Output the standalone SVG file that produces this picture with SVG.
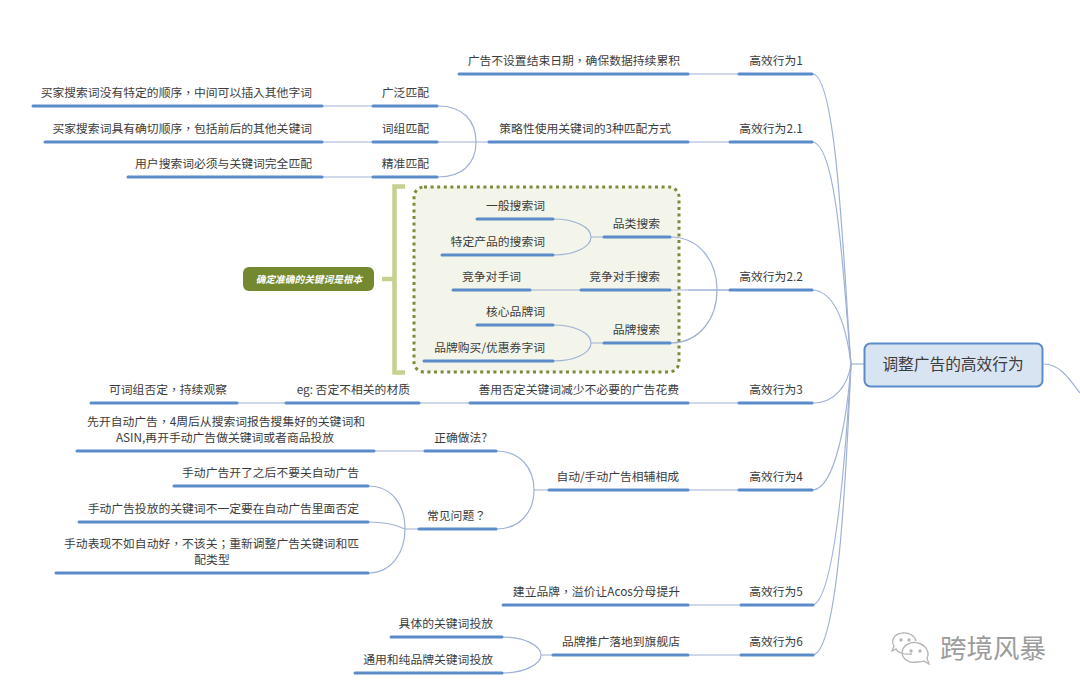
<svg xmlns="http://www.w3.org/2000/svg" width="1080" height="696" viewBox="0 0 1080 696">
<style>
text{font-family:"Noto Sans CJK SC","Liberation Sans",sans-serif;font-size:11.800px;fill:#3c3c3c}
.p{font-family:"Noto Sans CJK TC","Noto Sans CJK SC",sans-serif}
.e{text-anchor:end}.m{text-anchor:middle}
.u{stroke:#5b8bc9;stroke-width:3;stroke-linecap:round;fill:none}
.c{stroke:#9fb2d6;stroke-width:1.2;fill:none}
</style>
<rect width="1080" height="696" fill="#fff"/>
<g id="group-box">
<rect x="414" y="187" width="265" height="185" rx="10" fill="#f3f5ea" stroke="#7d8a3c" stroke-width="3" stroke-dasharray="3 3.6"/>
</g>
<g id="connectors">
<path class="c" d="M813 74C838 78 844 280 851 364"/>
<path class="c" d="M813 142C838 146 844 290 851 364"/>
<path class="c" d="M813 290C835 292 846 325 851 364"/>
<path class="c" d="M813 403C835 403 848 385 851 364"/>
<path class="c" d="M813 490C835 488 847 420 851 364"/>
<path class="c" d="M813 605C835 598 846 450 851 364"/>
<path class="c" d="M813 655C838 650 846 480 851 364"/>
<path class="c" d="M851 364H864"/>
<path class="c" d="M1044 364C1060 364 1070 380 1080 393"/>
<path class="c" d="M688 74H738M688 142H729M688 290H729M688 403H738M688 490H738M688 605H740M688 655H740"/>
<path class="c" d="M322 106H372M322 142H372M322 177H372M438 142H488"/>
<path class="c" d="M438 106C462 106 476 120 476 142C476 164 462 177 438 177"/>
<path class="c" d="M553 219C575 219 591 227 591 237C591 247 575 255 553 255M591 237H603"/>
<path class="c" d="M553 325C575 325 591 333 591 343C591 353 575 361 553 361M591 343H603"/>
<path class="c" d="M530 290H580"/>
<path class="c" d="M670 237C700 237 717 262 717 290C717 318 700 343 670 343M670 290H729"/>
<path class="c" d="M237 403H285M420 403H469"/>
<path class="c" d="M374 451H424M496 451C520 451 534 468 534 490C534 512 520 529 496 529M534 490H548"/>
<path class="c" d="M368 486C392 486 405 505 405 529C405 552 392 573 368 573M368 522C385 522 397 525 405 529H418"/>
<path class="c" d="M502 637C525 637 541 646 541 655C541 664 525 673 502 673M541 655H552"/>
</g>
<g id="root"><rect x="864.500" y="343.500" width="178" height="43" rx="6" fill="#d9e4f3" stroke="#5b8bc9" stroke-width="2"/><text x="953" y="370" class="m" style="font-size:15.700px">调整广告的高效行为</text></g>
<g id="n1"><path class="u" d="M739 74H812"/><text x="776" y="65" class="m">高效行为1</text></g>
<g id="n21"><path class="u" d="M730 142H812"/><text x="771" y="133" class="m">高效行为2.1</text></g>
<g id="n22"><path class="u" d="M730 290H812"/><text x="771" y="281" class="m">高效行为2.2</text></g>
<g id="n3"><path class="u" d="M739 403H812"/><text x="776" y="394" class="m">高效行为3</text></g>
<g id="n4"><path class="u" d="M739 490H812"/><text x="776" y="481" class="m">高效行为4</text></g>
<g id="n5"><path class="u" d="M741 605H813"/><text x="776" y="596" class="m">高效行为5</text></g>
<g id="n6"><path class="u" d="M741 655H813"/><text x="776" y="646" class="m">高效行为6</text></g>
<g id="a1"><path class="u" d="M459 74H688"/><text x="680" y="65" class="e p">广告不设置结束日期，确保数据持续累积</text></g>
<g id="a2"><path class="u" d="M489 142H688"/><text x="671" y="133" class="e">策略性使用关键词的3种匹配方式</text></g>
<g id="b1"><path class="u" d="M373 106H437"/><text x="429" y="97" class="e">广泛匹配</text></g>
<g id="b2"><path class="u" d="M373 142H437"/><text x="429" y="133" class="e">词组匹配</text></g>
<g id="b3"><path class="u" d="M373 177H437"/><text x="429" y="168" class="e">精准匹配</text></g>
<g id="c1"><path class="u" d="M33 106H322"/><text x="312" y="97" class="e p">买家搜索词没有特定的顺序，中间可以插入其他字词</text></g>
<g id="c2"><path class="u" d="M45 142H322"/><text x="312" y="133" class="e p">买家搜索词具有确切顺序，包括前后的其他关键词</text></g>
<g id="c3"><path class="u" d="M128 177H322"/><text x="312" y="168" class="e">用户搜索词必须与关键词完全匹配</text></g>
<g id="d1"><path class="u" d="M477 219H553"/><text x="545" y="210" class="e">一般搜索词</text></g>
<g id="d2"><path class="u" d="M442 255H553"/><text x="545" y="246" class="e">特定产品的搜索词</text></g>
<g id="d3"><path class="u" d="M604 237H670"/><text x="660" y="228" class="e">品类搜索</text></g>
<g id="d4"><path class="u" d="M453 290H530"/><text x="521" y="281" class="e">竞争对手词</text></g>
<g id="d5"><path class="u" d="M581 290H670"/><text x="660" y="281" class="e">竞争对手搜索</text></g>
<g id="d6"><path class="u" d="M477 325H553"/><text x="545" y="316" class="e">核心品牌词</text></g>
<g id="d7"><path class="u" d="M424 361H553"/><text x="545" y="352" class="e">品牌购买/优惠券字词</text></g>
<g id="d8"><path class="u" d="M604 343H670"/><text x="660" y="334" class="e">品牌搜索</text></g>
<g id="bracket"><path d="M405 186.500H394.500V372.500H405M382 279H394" fill="none" stroke="#c6d08f" stroke-width="4.500"/></g>
<g id="summary"><rect x="243" y="267" width="131" height="24" rx="6" fill="#74892f"/><text x="309" y="283" class="m" style="font-size:9.700px;font-style:italic;font-weight:700;fill:#fff">确定准确的关键词是根本</text></g>
<g id="e1"><path class="u" d="M470 403H688"/><text x="679" y="394" class="e">善用否定关键词减少不必要的广告花费</text></g>
<g id="e2"><path class="u" d="M286 403H419"/><text x="410" y="394" class="e">eg: 否定不相关的材质</text></g>
<g id="e3"><path class="u" d="M91 403H237"/><text x="227" y="394" class="e p">可词组否定，持续观察</text></g>
<g id="f1"><path class="u" d="M549 490H688"/><text x="679" y="481" class="e">自动/手动广告相辅相成</text></g>
<g id="f2"><path class="u" d="M425 451H496"/><text x="487" y="442" class="e">正确做法?</text></g>
<g id="f3"><path class="u" d="M77 451H374"/><text x="365" y="426" class="e p">先开自动广告，4周后从搜索词报告搜集好的关键词和</text><text x="225" y="442" class="m">ASIN,再开手动广告做关键词或者商品投放</text></g>
<g id="f4"><path class="u" d="M419 529H496"/><text x="486" y="520" class="e p">常见问题？</text></g>
<g id="f5"><path class="u" d="M174 486H368"/><text x="359" y="477" class="e">手动广告开了之后不要关自动广告</text></g>
<g id="f6"><path class="u" d="M79 522H368"/><text x="359" y="513" class="e">手动广告投放的关键词不一定要在自动广告里面否定</text></g>
<g id="f7"><path class="u" d="M56 573H368"/><text x="359" y="548" class="e p">手动表现不如自动好，不该关；重新调整广告关键词和匹</text><text x="212" y="564" class="m">配类型</text></g>
<g id="g1"><path class="u" d="M503 605H688"/><text x="680" y="596" class="e p">建立品牌，溢价让Acos分母提升</text></g>
<g id="h1"><path class="u" d="M553 655H688"/><text x="680" y="646" class="e">品牌推广落地到旗舰店</text></g>
<g id="h2"><path class="u" d="M391 637H502"/><text x="493" y="628" class="e">具体的关键词投放</text></g>
<g id="h3"><path class="u" d="M355 673H502"/><text x="493" y="664" class="e">通用和纯品牌关键词投放</text></g>
<g id="watermark" fill="none" stroke="#b4b4b4" stroke-width="1.300">
<path d="M912 654C903 655 897 652 896 649L892 651L894 646C891 642 893 634 902 633C909 632 915 636 916 641"/>
<path d="M917 662C908 664 902 658 902 652C903 645 911 641 918 643C926 645 930 652 927 658L929 664L924 661C922 662 919 662 917 662Z"/>
<circle cx="901" cy="640" r="1" fill="#b4b4b4"/><circle cx="909" cy="640" r="1" fill="#b4b4b4"/><circle cx="911" cy="651" r="1" fill="#b4b4b4"/><circle cx="920" cy="651" r="1" fill="#b4b4b4"/>
<text x="940" y="658" stroke="none" style="font-size:26.500px;fill:#9c9c9c">跨境风暴</text>
</g>
</svg>
